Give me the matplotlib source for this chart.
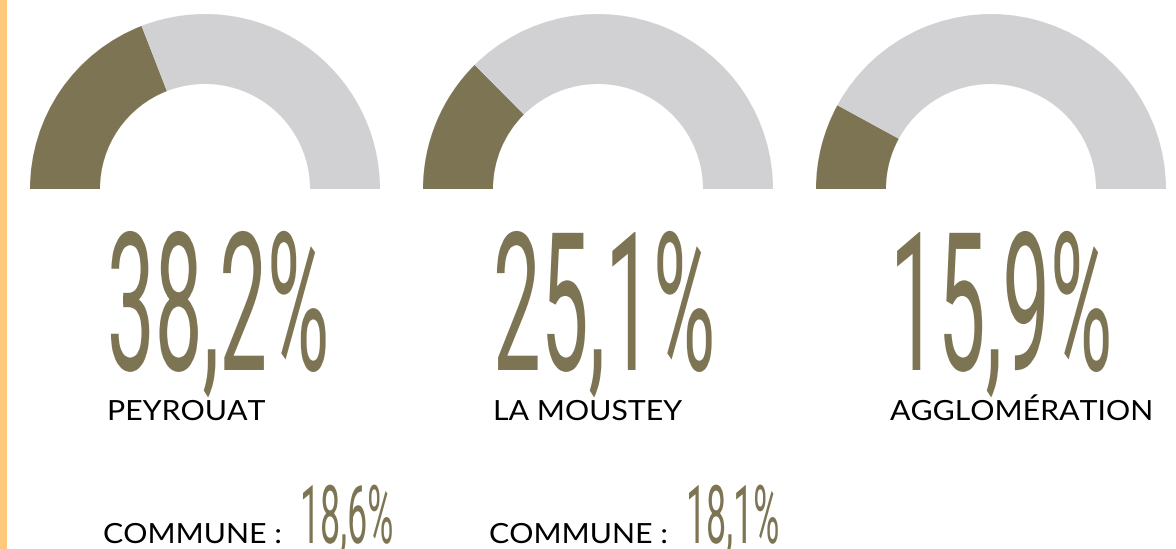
import matplotlib
matplotlib.use("Agg")
import matplotlib.pyplot as plt
from matplotlib.patheffects import AbstractPathEffect
from matplotlib.transforms import Affine2D

# données
zones = ["PEYROUAT", "LA MOUSTEY", "AGGLOMÉRATION"]
parts = [38.2, 25.1, 15.9]
parts_commune = [18.6, 18.1, None]

olive = "#7d7453"
gris = "#d1d1d3"
orange = "#ffc97b"


# étire le tracé du texte (police condensée / lettres larges)
class Etirer(AbstractPathEffect):
    def __init__(self, sx=1.0, sy=1.0):
        super().__init__()
        self.sx = sx
        self.sy = sy

    def draw_path(self, renderer, gc, tpath, affine, rgbFace=None):
        renderer.draw_path(gc, tpath, Affine2D().scale(self.sx, self.sy) + affine, rgbFace)


def fmt(v):
    return f"{v:.1f}".replace(".", ",") + "%"


haut = [Etirer(sy=2.27)]
large = [Etirer(sx=1.09)]

fig = plt.figure(figsize=(11.76, 5.49), dpi=100)
ax = fig.add_axes([0, 0, 1, 1])

centres = [205, 598, 991]
gauche = [107, 493, 890]
H = 549

for i, v in enumerate(parts):
    ax.pie([v, 100 - v, 100], colors=[olive, gris, "none"], startangle=180,
           counterclock=False, center=(centres[i], H - 189), radius=175,
           wedgeprops=dict(width=70, linewidth=0))
    ax.text(gauche[i], H - 370, fmt(v), fontsize=61.2, family="Roboto",
            color=olive, ha="left", va="baseline", path_effects=haut)
    ax.text(gauche[i], H - 420, zones[i], fontsize=20, family="Lato",
            color="black", ha="left", va="baseline", path_effects=large)
    if parts_commune[i] is not None:
        ax.text(gauche[i] - 4, H - 543, "COMMUNE :", fontsize=20, family="Lato",
                color="black", ha="left", va="baseline", path_effects=large)
        ax.text(gauche[i] + 193, H - 543, fmt(parts_commune[i]), fontsize=25.7,
                family="Roboto", color=olive, ha="left", va="baseline",
                path_effects=haut)

ax.axvspan(0, 7, color=orange, lw=0)
ax.set_xlim(0, 1176)
ax.set_ylim(0, H)
ax.axis("off")

fig.savefig("out.png", dpi=100)
